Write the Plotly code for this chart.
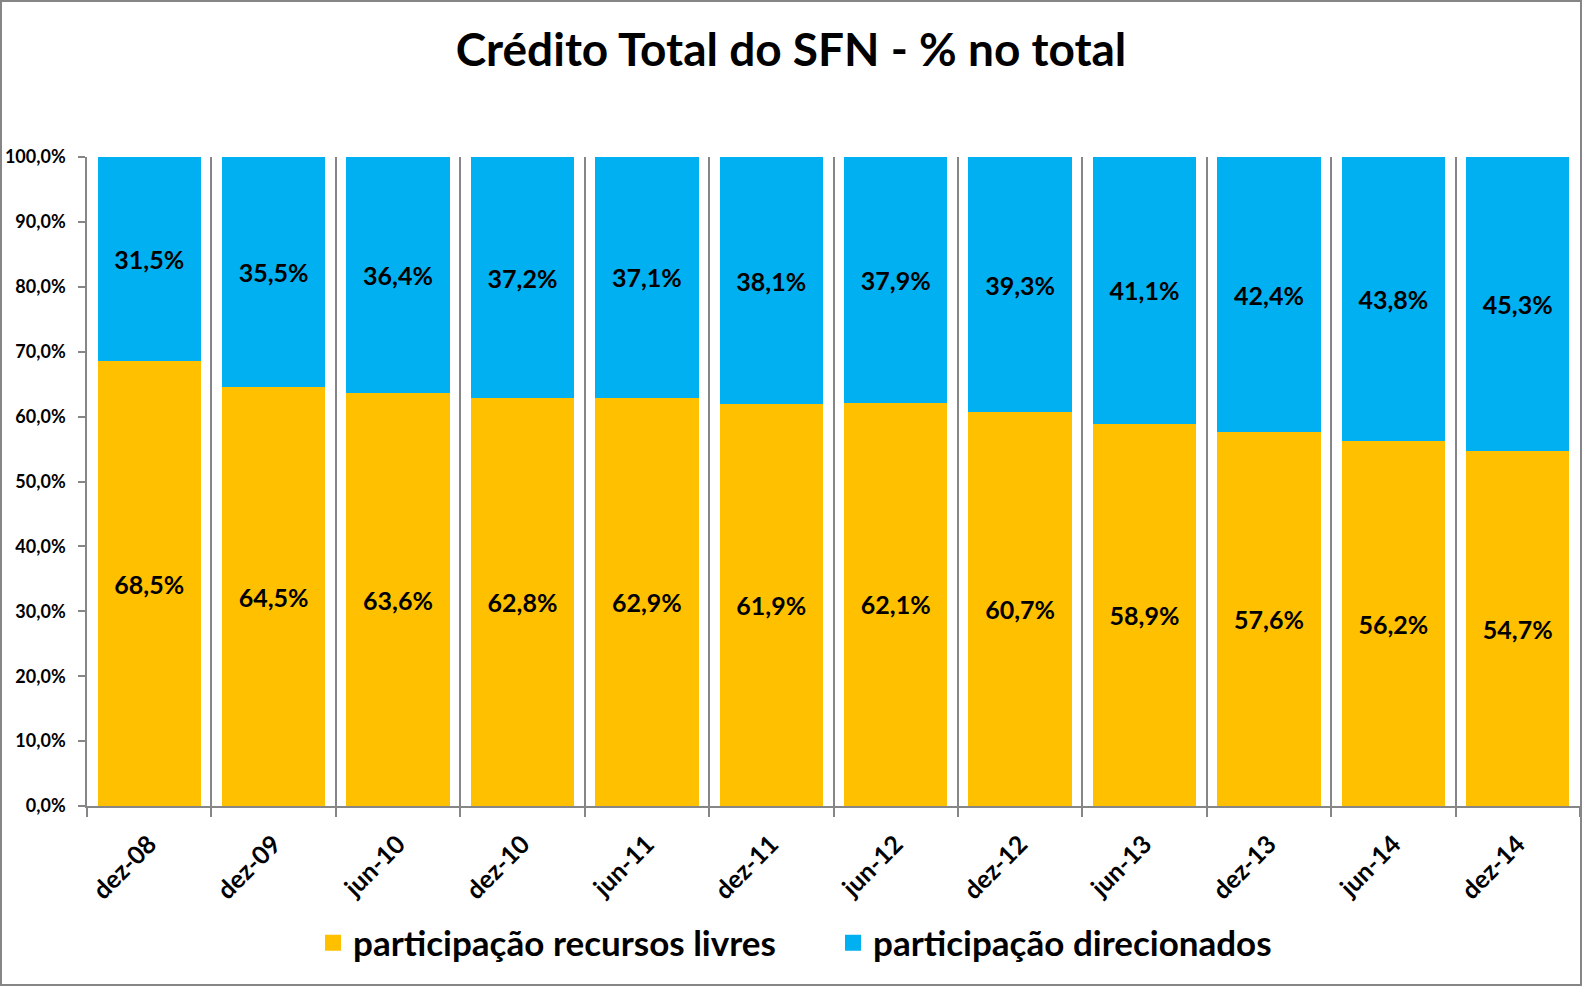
import plotly.graph_objects as go

categories = ["dez-08", "dez-09", "jun-10", "dez-10", "jun-11", "dez-11",
              "jun-12", "dez-12", "jun-13", "dez-13", "jun-14", "dez-14"]
livres = [68.5, 64.5, 63.6, 62.8, 62.9, 61.9, 62.1, 60.7, 58.9, 57.6, 56.2, 54.7]
direcionados = [31.5, 35.5, 36.4, 37.2, 37.1, 38.1, 37.9, 39.3, 41.1, 42.4, 43.8, 45.3]
series_names = ["participação recursos livres", "participação direcionados"]
y_ticks = [0, 10, 20, 30, 40, 50, 60, 70, 80, 90, 100]

FONT = "Lato"
ORANGE = "#FFC000"
BLUE = "#00B0F0"
GRAY = "#868686"


def fmt(v):
    return f"{v:.1f}%".replace(".", ",")


fig = go.Figure()
for name, vals, color in [(series_names[0], livres, ORANGE),
                          (series_names[1], direcionados, BLUE)]:
    fig.add_trace(go.Bar(
        x=categories, y=vals, name=name,
        marker=dict(color=color, line=dict(width=0)),
        text=[fmt(v) for v in vals],
        textposition="inside", insidetextanchor="middle", textangle=0,
        constraintext="none",
        textfont=dict(family=FONT, size=25, color="black", weight="bold"),
        showlegend=False, hoverinfo="x+y",
    ))
    # legend proxy with a larger square swatch
    fig.add_trace(go.Scatter(
        x=[None], y=[None], mode="markers", name=name,
        marker=dict(symbol="square", size=16, color=color),
        showlegend=True, hoverinfo="skip",
    ))

W, H = 1582, 986
L, R, T, B = 87, 2, 157, 180
pw, ph = W - L - R, H - T - B

fig.update_layout(
    width=W, height=H,
    margin=dict(l=L, r=R, t=T, b=B, autoexpand=False),
    paper_bgcolor="white", plot_bgcolor="white",
    barmode="stack", bargap=0.17,
    font=dict(family=FONT, color="black"),
    title=dict(text="<b>Crédito Total do SFN - % no total</b>",
               font=dict(family=FONT, size=46, color="black"),
               x=0.5, xref="container", xanchor="center",
               y=1 - 50 / H, yref="container", yanchor="middle"),
    xaxis=dict(type="category", tickson="boundaries", showgrid=True,
               gridcolor=GRAY, gridwidth=1.5, showline=True, linecolor=GRAY,
               linewidth=1.5, ticks="outside", ticklen=9, tickcolor=GRAY,
               tickwidth=1.5, tickangle=-45, ticklabelstandoff=12,
               tickfont=dict(family=FONT, size=25, color="black", weight="bold"),
               zeroline=False),
    yaxis=dict(range=[0, 100], tickvals=y_ticks,
               ticktext=[fmt(v) for v in y_ticks],
               showgrid=False, zeroline=False, showline=True,
               linecolor=GRAY, linewidth=1.5, ticks="outside", ticklen=7,
               tickcolor=GRAY, tickwidth=1.5, ticklabelstandoff=9,
               tickfont=dict(family=FONT, size=18, color="black", weight="bold")),
    legend=dict(orientation="h", traceorder="normal", x=(W / 2 - L + 42) / pw,
                xanchor="center", y=-(943 - (H - B)) / ph, yanchor="middle",
                font=dict(family=FONT, size=35, color="black", weight="bold"),
                bgcolor="rgba(0,0,0,0)", entrywidth=475),
    shapes=[dict(type="rect", xref="paper", yref="paper",
                 x0=(1 - L) / pw, x1=(W - 1 - L) / pw,
                 y0=-(H - 1 - (H - B)) / ph, y1=(H - B - 1) / ph,
                 line=dict(color=GRAY, width=2), fillcolor="rgba(0,0,0,0)",
                 layer="above")],
)

fig.write_html("out.html", config={"displayModeBar": False},
               post_script="document.body.style.margin='0';")
